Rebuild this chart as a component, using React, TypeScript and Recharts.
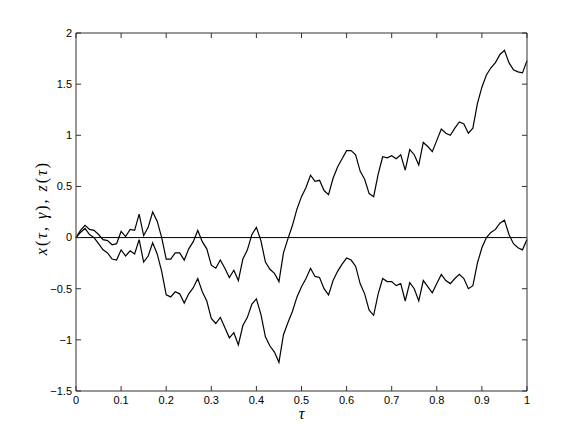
import React from 'react';
import { LineChart, Line, XAxis, YAxis, ReferenceLine, Label } from 'recharts';

// tau grid and the two paths
const tau = [
  0, 0.01, 0.02, 0.03, 0.04, 0.05, 0.06, 0.07, 0.08, 0.09,
  0.1, 0.11, 0.12, 0.13, 0.14, 0.15, 0.16, 0.17, 0.18, 0.19,
  0.2, 0.21, 0.22, 0.23, 0.24, 0.25, 0.26, 0.27, 0.28, 0.29,
  0.3, 0.31, 0.32, 0.33, 0.34, 0.35, 0.36, 0.37, 0.38, 0.39,
  0.4, 0.41, 0.42, 0.43, 0.44, 0.45, 0.46, 0.47, 0.48, 0.49,
  0.5, 0.51, 0.52, 0.53, 0.54, 0.55, 0.56, 0.57, 0.58, 0.59,
  0.6, 0.61, 0.62, 0.63, 0.64, 0.65, 0.66, 0.67, 0.68, 0.69,
  0.7, 0.71, 0.72, 0.73, 0.74, 0.75, 0.76, 0.77, 0.78, 0.79,
  0.8, 0.81, 0.82, 0.83, 0.84, 0.85, 0.86, 0.87, 0.88, 0.89,
  0.9, 0.91, 0.92, 0.93, 0.94, 0.95, 0.96, 0.97, 0.98, 0.99,
  1,
];

// x(tau, gamma) - upper path
const xPath = [
  0.0, 0.07, 0.12, 0.08, 0.07, 0.03, -0.02, -0.03, -0.07, -0.06,
  0.06, 0.01, 0.08, 0.07, 0.23, 0.02, 0.1, 0.25, 0.16, 0.0,
  -0.21, -0.21, -0.15, -0.15, -0.22, -0.11, -0.04, 0.07, -0.04, -0.11,
  -0.27, -0.3, -0.22, -0.3, -0.39, -0.32, -0.42, -0.21, -0.12, 0.03,
  0.1, -0.03, -0.24, -0.31, -0.35, -0.43, -0.15, -0.01, 0.12, 0.28,
  0.4, 0.49, 0.61, 0.55, 0.56, 0.46, 0.42, 0.58, 0.69, 0.77,
  0.85, 0.85, 0.81, 0.65, 0.57, 0.43, 0.4, 0.62, 0.79, 0.78,
  0.8, 0.77, 0.81, 0.66, 0.86, 0.81, 0.71, 0.93, 0.89, 0.84,
  0.95, 1.06, 1.02, 1.0, 1.07, 1.13, 1.11, 1.02, 1.07, 1.31,
  1.47, 1.59, 1.66, 1.71, 1.79, 1.83, 1.71, 1.64, 1.62, 1.61,
  1.73,
];

// z(tau) - lower path
const zPath = [
  0.0, 0.05, 0.09, 0.03, 0.0, -0.06, -0.12, -0.15, -0.21, -0.22,
  -0.12, -0.18, -0.13, -0.16, -0.02, -0.24, -0.18, -0.05, -0.16, -0.33,
  -0.56, -0.58, -0.53, -0.55, -0.64, -0.55, -0.49, -0.4, -0.53, -0.62,
  -0.79, -0.84, -0.78, -0.88, -0.98, -0.93, -1.05, -0.86, -0.78, -0.65,
  -0.6, -0.75, -0.97, -1.06, -1.12, -1.22, -0.95, -0.83, -0.72, -0.58,
  -0.48, -0.4, -0.3, -0.38, -0.39, -0.5, -0.56, -0.42, -0.33, -0.26,
  -0.2, -0.22, -0.28, -0.45, -0.55, -0.71, -0.76, -0.55, -0.4, -0.43,
  -0.43, -0.47, -0.45, -0.62, -0.44, -0.5, -0.62, -0.42, -0.48, -0.54,
  -0.45, -0.36, -0.42, -0.45, -0.4, -0.36, -0.4, -0.5, -0.47, -0.25,
  -0.1, 0.0, 0.05, 0.08, 0.14, 0.17, 0.03, -0.06, -0.1, -0.12,
  -0.02,
];

const xTicks = [0, 0.1, 0.2, 0.3, 0.4, 0.5, 0.6, 0.7, 0.8, 0.9, 1];
const yTicks = [-1.5, -1, -0.5, 0, 0.5, 1, 1.5, 2];

const data = tau.map((t, i) => ({ t, x: xPath[i], z: zPath[i] }));

const axisColor = '#333';
const tickFont = { fontSize: 11, fill: '#000', fontFamily: "'Liberation Sans', Arial, sans-serif" };
const fmt = (v: number) => (v < 0 ? '\u2212' + Math.abs(v) : String(v));
const blank = () => '';

const YLabel = ({ viewBox }: any) => {
  const cx = viewBox.x + 21;
  const cy = viewBox.y + viewBox.height / 2 - 4;
  return (
    <text
      x={cx}
      y={cy}
      transform={`rotate(-90, ${cx}, ${cy})`}
      textAnchor="middle"
      fontFamily="'Liberation Serif', 'DejaVu Serif', serif"
      fontSize={16}
      letterSpacing={2}
      fill="#000"
    >
      <tspan fontStyle="italic">x</tspan>
      <tspan>(</tspan>
      <tspan fontStyle="italic">τ, γ</tspan>
      <tspan>), </tspan>
      <tspan fontStyle="italic">z</tspan>
      <tspan>(</tspan>
      <tspan fontStyle="italic">τ</tspan>
      <tspan>)</tspan>
    </text>
  );
};

const XLabel = ({ viewBox }: any) => (
  <text
    x={viewBox.x + viewBox.width / 2}
    y={viewBox.y + 28}
    textAnchor="middle"
    fontFamily="'Liberation Serif', 'DejaVu Serif', serif"
    fontStyle="italic"
    fontSize={16}
    fill="#000"
  >
    τ
  </text>
);

export default function App() {
  return (
    <div style={{ position: 'fixed', left: 0, top: 0, width: 581, height: 440, background: '#fff' }}>
      <LineChart width={581} height={440} data={data} margin={{ top: 32, right: 53, bottom: 0, left: 26 }}>
        <XAxis
          dataKey="t"
          type="number"
          domain={[0, 1]}
          ticks={xTicks}
          tickFormatter={fmt}
          height={49}
          tickSize={-5}
          tickMargin={10}
          stroke={axisColor}
          tick={tickFont}
        >
          <Label content={<XLabel />} />
        </XAxis>
        <XAxis
          xAxisId="top"
          orientation="top"
          dataKey="t"
          type="number"
          domain={[0, 1]}
          ticks={xTicks}
          tickFormatter={blank}
          height={1}
          tickSize={-5}
          stroke={axisColor}
        />
        <YAxis
          type="number"
          domain={[-1.5, 2]}
          ticks={yTicks}
          tickFormatter={fmt}
          width={50}
          tickSize={-5}
          tickMargin={9}
          stroke={axisColor}
          tick={tickFont}
        >
          <Label content={<YLabel />} />
        </YAxis>
        <YAxis
          yAxisId="right"
          orientation="right"
          type="number"
          domain={[-1.5, 2]}
          ticks={yTicks}
          tickFormatter={blank}
          width={1}
          tickSize={-5}
          stroke={axisColor}
        />
        <ReferenceLine y={0} stroke="#000" strokeWidth={1} />
        <Line
          xAxisId="top"
          yAxisId="right"
          dataKey="x"
          type="linear"
          stroke="#000"
          strokeWidth={1.2}
          dot={false}
          activeDot={false}
          isAnimationActive={false}
        />
        <Line
          dataKey="z"
          type="linear"
          stroke="#000"
          strokeWidth={1.2}
          dot={false}
          activeDot={false}
          isAnimationActive={false}
        />
      </LineChart>
    </div>
  );
}
